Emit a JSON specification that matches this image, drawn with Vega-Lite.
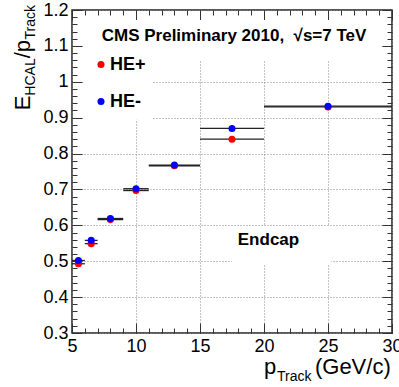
{
  "$schema": "https://vega.github.io/schema/vega-lite/v6.json",
  "width": 320,
  "height": 323,
  "autosize": {"type": "none"},
  "padding": {"left": 72, "top": 10, "right": 7, "bottom": 54},
  "background": "white",
  "config": {"view": {"stroke": "#222", "strokeWidth": 1.5}, "font": "Liberation Sans"},
  "datasets": {
    "points": [
      {"series": "HE+", "p": 5.5, "lo": 5, "hi": 6, "r": 0.493},
      {"series": "HE+", "p": 6.5, "lo": 6, "hi": 7, "r": 0.549},
      {"series": "HE+", "p": 8, "lo": 7, "hi": 9, "r": 0.616},
      {"series": "HE+", "p": 10, "lo": 9, "hi": 11, "r": 0.697},
      {"series": "HE+", "p": 13, "lo": 11, "hi": 15, "r": 0.766},
      {"series": "HE+", "p": 17.5, "lo": 15, "hi": 20, "r": 0.84},
      {"series": "HE+", "p": 25, "lo": 20, "hi": 30, "r": 0.93},
      {"series": "HE-", "p": 5.5, "lo": 5, "hi": 6, "r": 0.502},
      {"series": "HE-", "p": 6.5, "lo": 6, "hi": 7, "r": 0.558},
      {"series": "HE-", "p": 8, "lo": 7, "hi": 9, "r": 0.619},
      {"series": "HE-", "p": 10, "lo": 9, "hi": 11, "r": 0.702},
      {"series": "HE-", "p": 13, "lo": 11, "hi": 15, "r": 0.768},
      {"series": "HE-", "p": 17.5, "lo": 15, "hi": 20, "r": 0.87},
      {"series": "HE-", "p": 25, "lo": 20, "hi": 30, "r": 0.932}
    ],
    "boxes": [
      {"x0": 5.85, "x1": 29.2, "y0": 1.058, "y1": 1.172},
      {"x0": 5.85, "x1": 11.25, "y0": 0.894, "y1": 1.058},
      {"x0": 17.5, "x1": 25.25, "y0": 0.49, "y1": 0.598}
    ],
    "labels": [
      {"role": "note", "label": "CMS Preliminary 2010,\u00a0 √s=7 TeV", "x": 17.66, "y": 1.114},
      {"role": "note", "label": "Endcap", "x": 20.35, "y": 0.545},
      {"role": "xmain", "label": "p", "x": 20.0, "y": 0.1858},
      {"role": "xmain", "label": "(GeV/c)", "x": 23.98, "y": 0.1858},
      {"role": "xsub", "label": "Track", "x": 21.02, "y": 0.1663},
      {"role": "ymain", "label": "E", "x": 1.719, "y": 0.9615},
      {"role": "ymain", "label": "/p", "x": 1.719, "y": 1.1164},
      {"role": "ysub", "label": "HCAL", "x": 2.109, "y": 1.0654},
      {"role": "ysub", "label": "Track", "x": 2.109, "y": 1.2139}
    ]
  },
  "layer": [
    {
      "data": {"name": "boxes"},
      "mark": {"type": "rect", "fill": "white", "strokeWidth": 0},
      "encoding": {
        "x": {"field": "x0", "type": "quantitative", "scale": {"domain": [5, 30], "nice": false, "zero": false},
          "axis": {"orient": "bottom", "values": [5, 10, 15, 20, 25, 30],
            "labelFont": "Liberation Sans", "labelFontSize": 18, "labelColor": "#000", "labelFlush": false, "labelOverlap": false, "labelPadding": 14,
            "ticks": true, "tickSize": -10, "tickColor": "#333", "tickWidth": 1,
            "grid": true, "gridColor": "#888", "gridDash": [1, 2],
            "domain": false, "title": null}},
        "x2": {"field": "x1"},
        "y": {"field": "y0", "type": "quantitative", "scale": {"domain": [0.3, 1.2], "nice": false, "zero": false},
          "axis": {"orient": "left", "values": [0.3, 0.4, 0.5, 0.6, 0.7, 0.8, 0.9, 1, 1.1, 1.2],
            "labelExpr": "format(datum.value, '.1~f')",
            "labelFont": "Liberation Sans", "labelFontSize": 18, "labelColor": "#000", "labelFlush": false, "labelOverlap": false, "labelPadding": 14,
            "ticks": true, "tickSize": -10, "tickColor": "#333", "tickWidth": 1,
            "grid": true, "gridColor": "#888", "gridDash": [1, 2],
            "domain": false, "title": null}},
        "y2": {"field": "y1"}
      }
    },
    {
      "data": {"name": "points"},
      "mark": {"type": "rule", "color": "#222", "strokeWidth": 1.3},
      "encoding": {
        "x": {"field": "lo", "type": "quantitative", "scale": {"domain": [5, 30], "nice": false, "zero": false},
          "axis": {"orient": "top", "values": [5, 10, 15, 20, 25, 30],
            "labels": false, "grid": false, "domain": false, "title": null,
            "ticks": true, "tickSize": -10, "tickColor": "#333", "tickWidth": 1}},
        "x2": {"field": "hi"},
        "y": {"field": "r", "type": "quantitative", "scale": {"domain": [0.3, 1.2], "nice": false, "zero": false},
          "axis": {"orient": "right", "values": [0.3, 0.4, 0.5, 0.6, 0.7, 0.8, 0.9, 1, 1.1, 1.2],
            "labels": false, "grid": false, "domain": false, "title": null,
            "ticks": true, "tickSize": -10, "tickColor": "#333", "tickWidth": 1}}
      }
    },
    {
      "data": {"name": "points"},
      "mark": {"type": "point", "filled": true, "size": 50, "opacity": 1, "strokeWidth": 0},
      "encoding": {
        "x": {"field": "p", "type": "quantitative", "scale": {"domain": [5, 30], "nice": false, "zero": false},
          "axis": {"orient": "bottom", "values": [5,6,7,8,9,10,11,12,13,14,15,16,17,18,19,20,21,22,23,24,25,26,27,28,29,30],
            "labels": false, "grid": false, "domain": false, "title": null,
            "ticks": true, "tickSize": -5, "tickColor": "#333", "tickWidth": 1}},
        "y": {"field": "r", "type": "quantitative", "scale": {"domain": [0.3, 1.2], "nice": false, "zero": false},
          "axis": {"orient": "left", "values": [0.3,0.32,0.34,0.36,0.38,0.4,0.42,0.44,0.46,0.48,0.5,0.52,0.54,0.56,0.58,0.6,0.62,0.64,0.66,0.68,0.7,0.72,0.74,0.76,0.78,0.8,0.82,0.84,0.86,0.88,0.9,0.92,0.94,0.96,0.98,1,1.02,1.04,1.06,1.08,1.1,1.12,1.14,1.16,1.18,1.2],
            "labels": false, "grid": false, "domain": false, "title": null,
            "ticks": true, "tickSize": -5, "tickColor": "#333", "tickWidth": 1}},
        "color": {"field": "series", "type": "nominal", "scale": {"domain": ["HE+", "HE-"], "range": ["#ff0000", "#0000ff"]},
          "legend": {"orient": "none", "legendX": 20, "legendY": 45.5, "title": null, "padding": 0,
            "labelFont": "Liberation Sans", "labelFontWeight": "bold", "labelFontSize": 18, "labelColor": "#000",
            "symbolType": "circle", "symbolSize": 50, "symbolStrokeWidth": 0, "rowPadding": 19, "labelOffset": 0}}
      }
    },
    {
      "data": {"name": "labels"},
      "transform": [{"filter": "datum.role === 'note'"}],
      "mark": {"type": "text", "font": "Liberation Sans", "fontWeight": "bold", "fontSize": 17, "align": "center", "baseline": "alphabetic", "color": "#000"},
      "encoding": {
        "x": {"field": "x", "type": "quantitative", "scale": {"domain": [5, 30], "nice": false, "zero": false},
          "axis": {"orient": "top", "values": [5,6,7,8,9,10,11,12,13,14,15,16,17,18,19,20,21,22,23,24,25,26,27,28,29,30],
            "labels": false, "grid": false, "domain": false, "title": null,
            "ticks": true, "tickSize": -5, "tickColor": "#333", "tickWidth": 1}},
        "y": {"field": "y", "type": "quantitative", "scale": {"domain": [0.3, 1.2], "nice": false, "zero": false},
          "axis": {"orient": "right", "values": [0.3,0.32,0.34,0.36,0.38,0.4,0.42,0.44,0.46,0.48,0.5,0.52,0.54,0.56,0.58,0.6,0.62,0.64,0.66,0.68,0.7,0.72,0.74,0.76,0.78,0.8,0.82,0.84,0.86,0.88,0.9,0.92,0.94,0.96,0.98,1,1.02,1.04,1.06,1.08,1.1,1.12,1.14,1.16,1.18,1.2],
            "labels": false, "grid": false, "domain": false, "title": null,
            "ticks": true, "tickSize": -5, "tickColor": "#333", "tickWidth": 1}},
        "text": {"field": "label"}
      }
    },
    {
      "data": {"name": "labels"},
      "transform": [{"filter": "datum.role === 'xmain'"}],
      "mark": {"type": "text", "font": "Liberation Sans", "fontSize": 22, "align": "left", "baseline": "alphabetic", "color": "#000"},
      "encoding": {
        "x": {"field": "x", "type": "quantitative", "scale": {"domain": [5, 30], "nice": false, "zero": false}, "axis": null},
        "y": {"field": "y", "type": "quantitative", "scale": {"domain": [0.3, 1.2], "nice": false, "zero": false}, "axis": null},
        "text": {"field": "label"}
      }
    },
    {
      "data": {"name": "labels"},
      "transform": [{"filter": "datum.role === 'xsub'"}],
      "mark": {"type": "text", "font": "Liberation Sans", "fontSize": 14, "align": "left", "baseline": "alphabetic", "color": "#000"},
      "encoding": {
        "x": {"field": "x", "type": "quantitative", "scale": {"domain": [5, 30], "nice": false, "zero": false}, "axis": null},
        "y": {"field": "y", "type": "quantitative", "scale": {"domain": [0.3, 1.2], "nice": false, "zero": false}, "axis": null},
        "text": {"field": "label"}
      }
    },
    {
      "data": {"name": "labels"},
      "transform": [{"filter": "datum.role === 'ymain'"}],
      "mark": {"type": "text", "font": "Liberation Sans", "fontSize": 22, "align": "right", "baseline": "alphabetic", "angle": 270, "color": "#000"},
      "encoding": {
        "x": {"field": "x", "type": "quantitative", "scale": {"domain": [5, 30], "nice": false, "zero": false}, "axis": null},
        "y": {"field": "y", "type": "quantitative", "scale": {"domain": [0.3, 1.2], "nice": false, "zero": false}, "axis": null},
        "text": {"field": "label"}
      }
    },
    {
      "data": {"name": "labels"},
      "transform": [{"filter": "datum.role === 'ysub'"}],
      "mark": {"type": "text", "font": "Liberation Sans", "fontSize": 14, "align": "right", "baseline": "alphabetic", "angle": 270, "color": "#000"},
      "encoding": {
        "x": {"field": "x", "type": "quantitative", "scale": {"domain": [5, 30], "nice": false, "zero": false}, "axis": null},
        "y": {"field": "y", "type": "quantitative", "scale": {"domain": [0.3, 1.2], "nice": false, "zero": false}, "axis": null},
        "text": {"field": "label"}
      }
    }
  ],
  "resolve": {"axis": {"x": "independent", "y": "independent"}}
}
